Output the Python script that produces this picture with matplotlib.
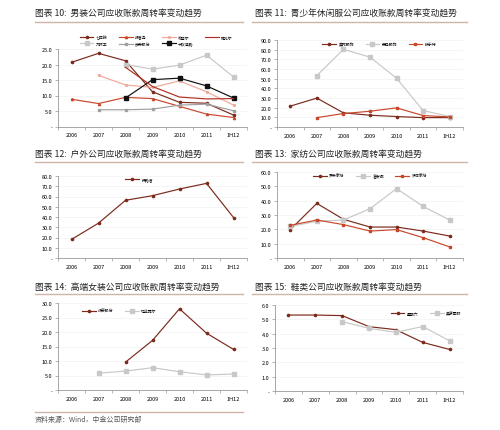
import matplotlib
matplotlib.use("Agg")
import matplotlib.pyplot as plt
from matplotlib.lines import Line2D

plt.rcParams['font.family'] = ['Noto Sans CJK SC', 'DejaVu Sans']

# 数据
years = ['2006', '2007', '2008', '2009', '2010', '2011', '1H12']
nan = float('nan')

# 图表10 男装
qipilang = [20.7, 23.6, 21.2, 11.2, 7.8, 7.5, 3.7]
jiumuwang = [nan, nan, 20.0, 18.5, 19.8, 23.0, 16.0]
baoxiniao = [8.8, 7.4, 9.4, 9.0, 6.5, 4.0, 2.9]
busen = [nan, 5.4, 5.4, 5.6, 6.9, 7.2, 5.1]
xinuer = [nan, 16.5, 13.4, 12.6, 14.7, 11.2, 6.9]
kanudilu = [nan, nan, 9.2, 15.1, 15.6, 13.1, 9.2]
yagor = [nan, nan, 19.1, 12.9, 9.5, 8.9, 9.0]

# 图表11 青少年休闲
meibang = [21.6, 29.9, 14.6, 12.2, 10.8, 9.7, 9.7]
senma = [nan, 53.2, 80.3, 72.3, 50.4, 17.0, 10.8]
souyute = [nan, 9.7, 13.9, 16.3, 19.8, 11.8, 10.4]

# 图表12 户外
tanluzhe = [18.1, 34.0, 56.3, 60.8, 67.3, 72.8, 39.5]

# 图表13 家纺
luolai = [19.8, 38.1, 27.0, 21.6, 21.6, 18.8, 15.3]
fuanna = [22.0, 25.6, 26.5, 34.4, 48.4, 36.0, 26.5]
mengjie = [22.8, 26.5, 23.3, 18.8, 19.8, 14.2, 7.7]

# 图表14 高端女装
langzi = [nan, nan, 9.6, 17.1, 28.0, 19.6, 14.0]
geli = [nan, 5.8, 6.5, 7.7, 6.3, 5.2, 5.5]

# 图表15 鞋类
xingqiliu = [5.3, 5.3, 5.26, 4.49, 4.28, 3.39, 2.9]
aokang = [nan, nan, 4.84, 4.37, 4.09, 4.5, 3.5]

DARK = '#7b2a1c'
GRAY = '#c8c8c8'
RED = '#c8472b'
PINK = '#f0a898'
BLACK = '#111111'
MID = '#a0a0a0'

W, H = 500, 431
fig = plt.figure(figsize=(5, 4.31), dpi=100)


def rect(l, r, b, t):
    return [l / W, 1 - b / H, (r - l) / W, (b - t) / H]


def setup(ax, ymax, step):
    x = range(len(years))
    ax.set_xlim(-0.5, len(years) - 0.5)
    ax.set_ylim(0, ymax)
    ticks = [i * step for i in range(int(round(ymax / step)) + 1)]
    ax.set_yticks(ticks)
    ax.set_yticklabels(['-'] + ['%.1f' % t for t in ticks[1:]])
    ax.set_xticks(list(x))
    ax.set_xticklabels(years)
    ax.set_xticks([i + 0.5 for i in range(-1, len(years))], minor=True)
    ax.tick_params(axis='x', which='major', length=0, pad=4, labelsize=4)
    ax.tick_params(axis='x', which='minor', length=2, color='#999999', width=0.5)
    ax.tick_params(axis='y', length=2, color='#999999', width=0.5, labelsize=4, pad=2)
    for s in ['top', 'right']:
        ax.spines[s].set_visible(False)
    for s in ['left', 'bottom']:
        ax.spines[s].set_color('#999999')
        ax.spines[s].set_linewidth(0.6)
    ax.grid(axis='y', color='#eeeeee', linewidth=0.4)
    ax.set_axisbelow(True)


def line(ax, vals, color, label, marker='s', ms=1.6):
    ax.plot(range(len(years)), vals, color=color, lw=0.85, marker=marker,
            ms=ms, mfc=color, mec=color, label=label)


def title(x, y, text):
    fig.text(x / W, 1 - y / H, text, fontsize=6.3, color='#222222',
             style='italic', va='center', ha='left')


def rule(x0, x1, y):
    fig.add_artist(Line2D([x0 / W, x1 / W], [1 - y / H, 1 - y / H],
                          color='#cdb6a8', lw=1.0))


def legend(ax, ncol, loc, anchor):
    leg = ax.legend(ncol=ncol, loc=loc, bbox_to_anchor=anchor, fontsize=2.8,
                    frameon=False, handlelength=3.5, columnspacing=3,
                    handletextpad=0.6, borderaxespad=0)
    return leg


# 标题与分割线
title(35, 14, '图表 10:  男装公司应收账款周转率变动趋势')
title(255, 14, '图表 11:  青少年休闲服公司应收账款周转率变动趋势')
title(35, 155, '图表 12:  户外公司应收账款周转率变动趋势')
title(255, 155, '图表 13:  家纺公司应收账款周转率变动趋势')
title(35, 288, '图表 14:  高端女装公司应收账款周转率变动趋势')
title(255, 288, '图表 15:  鞋类公司应收账款周转率变动趋势')
rule(35, 243, 23)
rule(252, 467, 23)
rule(35, 243, 163)
rule(252, 467, 163)
rule(35, 243, 295)
rule(252, 467, 295)
rule(35, 243, 413)
fig.text(35 / W, 1 - 420 / H, '资料来源：Wind，中金公司研究部', fontsize=5,
         color='#555555', style='italic', va='center')

# 图表10
ax = fig.add_axes(rect(58, 247, 127.5, 50))
setup(ax, 25, 5)
line(ax, qipilang, DARK, '七匹狼', 'o')
line(ax, jiumuwang, GRAY, '九牧王', 's', 2.2)
line(ax, baoxiniao, RED, '报喜鸟', '^')
line(ax, busen, MID, '步森股份', 's')
line(ax, xinuer, PINK, '希努尔', 'x')
line(ax, kanudilu, BLACK, '卡奴迪路', 's', 2.8)
line(ax, yagor, '#b03020', '雅戈尔', 'None')
legend(ax, 4, 'lower center', (0.52, 1.02))

# 图表11
ax = fig.add_axes(rect(277, 463, 128, 41))
setup(ax, 90, 10)
line(ax, meibang, DARK, '美邦服饰', 'o')
line(ax, senma, GRAY, '森马服饰', 's', 2.2)
line(ax, souyute, RED, '搜于特', 's')
legend(ax, 3, 'upper center', (0.55, 1.0))

# 图表12
ax = fig.add_axes(rect(58, 247, 259, 177))
setup(ax, 80, 10)
line(ax, tanluzhe, DARK, '探路者', 'o')
legend(ax, 1, 'upper center', (0.43, 1.0))

# 图表13
ax = fig.add_axes(rect(277, 463, 259, 173))
setup(ax, 60, 10)
line(ax, luolai, DARK, '罗莱家纺', 'o')
line(ax, fuanna, GRAY, '富安娜', 's', 2.2)
line(ax, mengjie, RED, '梦洁家纺', 's')
legend(ax, 3, 'upper center', (0.5, 1.0))

# 图表14
ax = fig.add_axes(rect(58, 247, 391, 304))
setup(ax, 30, 5)
line(ax, langzi, DARK, '朗姿股份', 'o')
line(ax, geli, GRAY, '玛丝菲尔', 's', 2.2)
legend(ax, 2, 'upper left', (0.12, 0.95))

# 图表15
ax = fig.add_axes(rect(275, 463, 392, 306))
setup(ax, 6, 1)
line(ax, xingqiliu, DARK, '星期六', 'o')
line(ax, aokang, GRAY, '奥康国际', 's', 2.2)
legend(ax, 2, 'upper right', (1.0, 0.95))

fig.savefig('out.png', dpi=100)
